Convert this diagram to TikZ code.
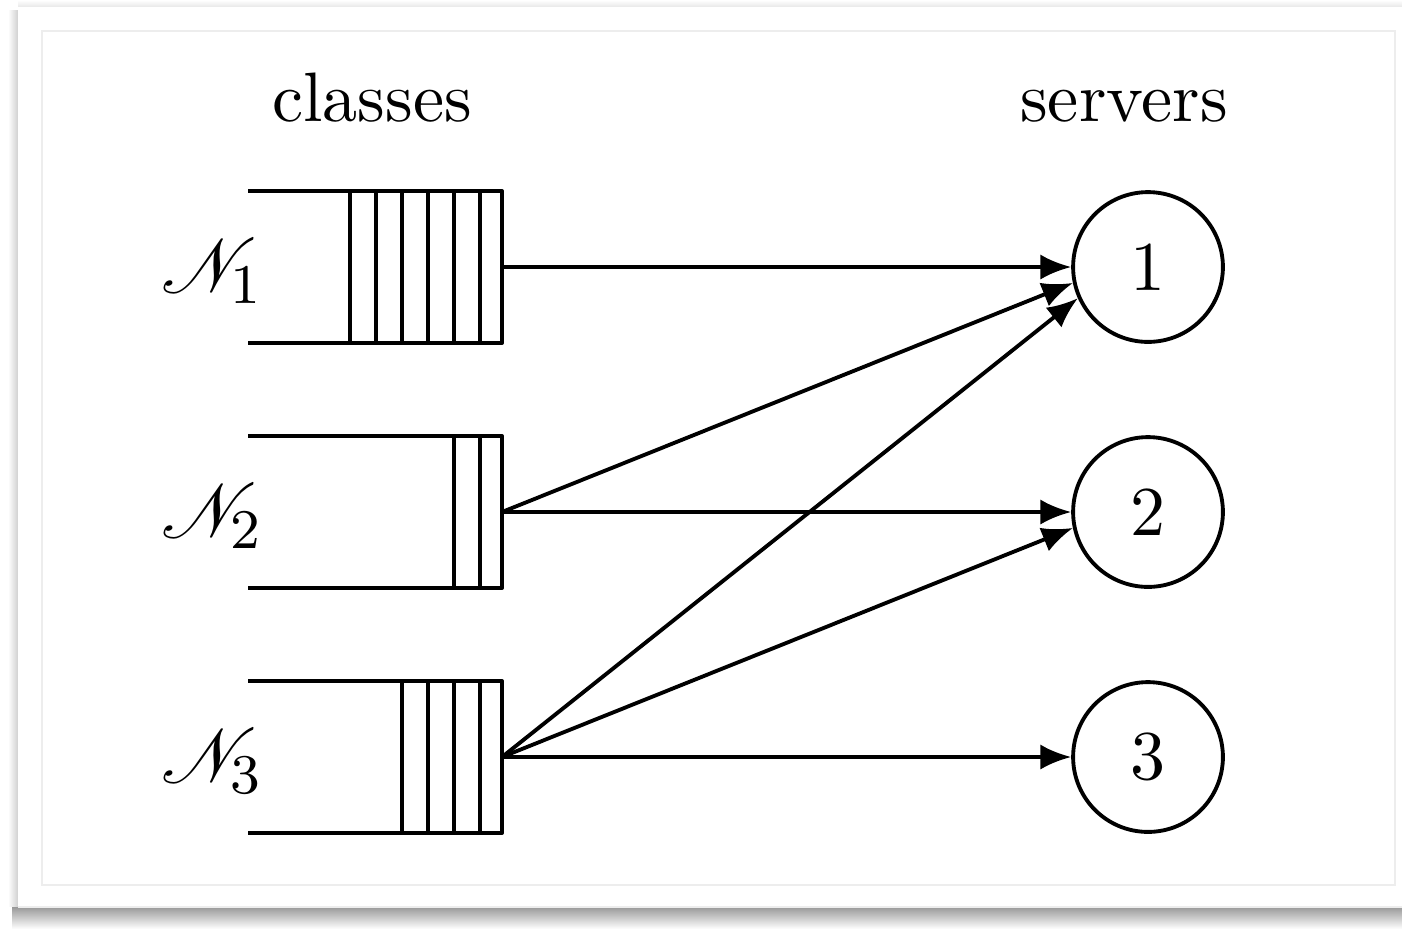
\documentclass[tikz,border=0pt]{standalone}
\usepackage{mathrsfs}
\usetikzlibrary{arrows.meta,calc}
\definecolor{frameline}{HTML}{EDEDED}
\definecolor{shadowdark}{HTML}{959595}
\definecolor{shadowlight}{HTML}{D0D0D0}
\tikzset{
  wire/.style={line width=0.55pt, line join=round},
  link/.style={wire, -{Latex[length=4.4pt,width=3.6pt]}},
  server/.style={circle, draw, line width=0.55pt, minimum size=21.4pt, inner sep=0pt},
  heading/.style={anchor=base, inner sep=0pt},
  classlabel/.style={anchor=base, inner sep=0pt, font=\fontsize{11}{13}\selectfont},
}
% a queue: open on the left, n cells at its right end, anchored at its right middle
\newcommand{\queuebox}[2]{%
  \draw[wire] ($(#1)+(-254,-76)$) -- ($(#1)+(0,-76)$) -- ($(#1)+(0,76)$) -- ($(#1)+(-254,76)$);
  \foreach \k in {1,...,#2}{
    \draw[wire] ($(#1)+({-22-26*(\k-1)},-76)$) -- ($(#1)+({-22-26*(\k-1)},76)$);
  }
}
\begin{document}
\begin{tikzpicture}[x=0.142857pt, y=-0.142857pt]
  \useasboundingbox (0,0) rectangle (1402,931);
  % card with its drop shadow
  \fill[white] (0,0) rectangle (1402,931);
  \shade[top color=shadowdark, bottom color=white] (12,906) rectangle (1402,929);
  \shade[left color=white, right color=shadowlight] (8,10) rectangle (18,906);
  \shade[top color=white, bottom color=shadowlight!50] (18,0) rectangle (1402,7);
  \fill[white] (18,7) rectangle (1402,907);
  \draw[frameline, line width=0.25pt] (18,907) -- (1402,907);
  \draw[frameline, line width=0.3pt] (42,31) rectangle (1395,885);

  % headings
  \node[heading] (hc) at (372,121) {classes};
  \node[heading] (hs) at (1124,121) {servers};

  % queues
  \coordinate (q1) at (502,267);
  \coordinate (q2) at (502,512);
  \coordinate (q3) at (502,757);
  \queuebox{q1}{6}
  \queuebox{q2}{2}
  \queuebox{q3}{4}

  % class labels
  \node[classlabel] (n1) at (213,292) {$\mathscr{N}_1$};
  \node[classlabel] (n2) at (213,537) {$\mathscr{N}_2$};
  \node[classlabel] (n3) at (213,782) {$\mathscr{N}_3$};

  % servers
  \node[server] (s1) at (1148,267) {1};
  \node[server] (s2) at (1148,512) {2};
  \node[server] (s3) at (1148,757) {3};

  % routing
  \draw[link] (q1) -- (s1.180);
  \draw[link] (q2) -- (s1.192);
  \draw[link] (q2) -- (s2.180);
  \draw[link] (q3) -- (s1.204);
  \draw[link] (q3) -- (s2.192);
  \draw[link] (q3) -- (s3.180);
\end{tikzpicture}
\end{document}
